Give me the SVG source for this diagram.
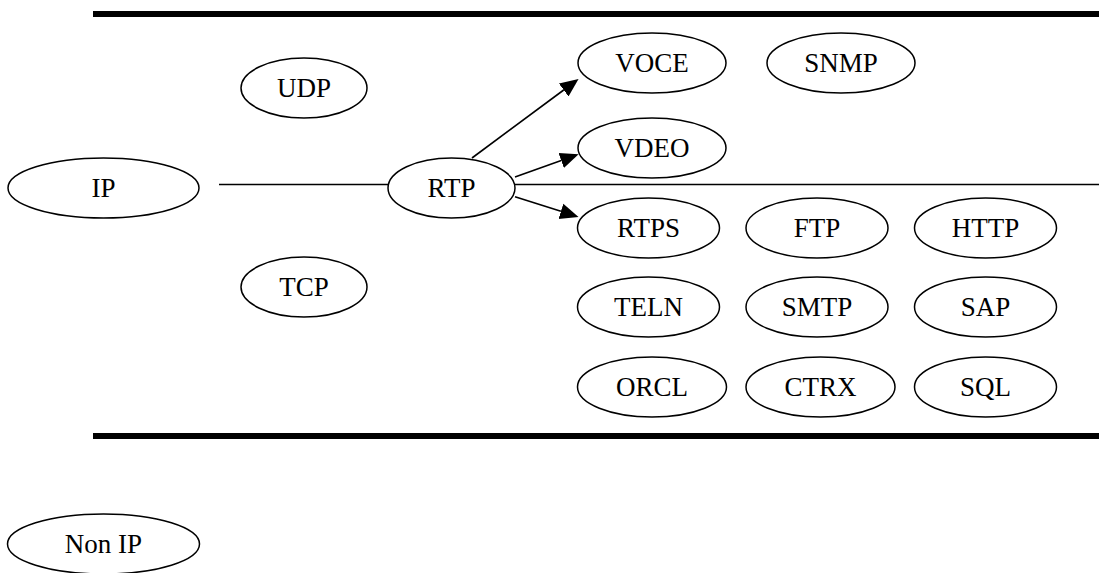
<svg xmlns="http://www.w3.org/2000/svg" width="1099" height="573" viewBox="0 0 1099 573">
<style>
.n ellipse{fill:#fff;stroke:#000;stroke-width:1.5}
.n text{font-family:"Liberation Serif","Times New Roman",serif;font-size:27px;fill:#000;text-anchor:middle}
.c line{stroke:#000;stroke-width:1.6;fill:none}
.bar{fill:#000}
</style>
<defs>
<marker id="ah" markerUnits="userSpaceOnUse" markerWidth="20" markerHeight="18" refX="0" refY="9" orient="auto">
<path d="M0,1 L18.5,9 L0,17 z" fill="#000"/>
</marker>
</defs>
<rect class="bar" x="93" y="11" width="1006" height="6"/>
<rect class="bar" x="93" y="433" width="1006" height="6"/>
<g class="c" id="connectors">
<line x1="219" y1="184.5" x2="1099" y2="184.5"/>
<line x1="472" y1="158" x2="563.7" y2="90" marker-end="url(#ah)"/>
<line x1="515" y1="177" x2="561.2" y2="160.5" marker-end="url(#ah)"/>
<line x1="515" y1="196.7" x2="560.9" y2="211.3" marker-end="url(#ah)"/>
</g>
<g class="n" id="IP"><ellipse cx="103.5" cy="188" rx="95.5" ry="30"/><text x="103.5" y="197">IP</text></g>
<g class="n" id="UDP"><ellipse cx="304" cy="88" rx="63" ry="30"/><text x="304" y="97">UDP</text></g>
<g class="n" id="TCP"><ellipse cx="304" cy="287" rx="63" ry="30"/><text x="304" y="296">TCP</text></g>
<g class="n" id="RTP"><ellipse cx="451.5" cy="188" rx="63.5" ry="30"/><text x="451.5" y="197">RTP</text></g>
<g class="n" id="VOCE"><ellipse cx="652" cy="63" rx="74" ry="30"/><text x="652" y="72">VOCE</text></g>
<g class="n" id="SNMP"><ellipse cx="841" cy="63" rx="74" ry="30"/><text x="841" y="72">SNMP</text></g>
<g class="n" id="VDEO"><ellipse cx="652" cy="148" rx="74" ry="30"/><text x="652" y="157">VDEO</text></g>
<g class="n" id="RTPS"><ellipse cx="648.5" cy="228" rx="71" ry="30"/><text x="648.5" y="237">RTPS</text></g>
<g class="n" id="FTP"><ellipse cx="817" cy="228" rx="71" ry="30"/><text x="817" y="237">FTP</text></g>
<g class="n" id="HTTP"><ellipse cx="985.5" cy="228" rx="71" ry="30"/><text x="985.5" y="237">HTTP</text></g>
<g class="n" id="TELN"><ellipse cx="648.5" cy="307" rx="71" ry="30"/><text x="648.5" y="316">TELN</text></g>
<g class="n" id="SMTP"><ellipse cx="817" cy="307" rx="71" ry="30"/><text x="817" y="316">SMTP</text></g>
<g class="n" id="SAP"><ellipse cx="985.5" cy="307" rx="71" ry="30"/><text x="985.5" y="316">SAP</text></g>
<g class="n" id="ORCL"><ellipse cx="652" cy="387" rx="74.5" ry="30"/><text x="652" y="396">ORCL</text></g>
<g class="n" id="CTRX"><ellipse cx="820.5" cy="387" rx="74.5" ry="30"/><text x="820.5" y="396">CTRX</text></g>
<g class="n" id="SQL"><ellipse cx="985.5" cy="387" rx="71" ry="30"/><text x="985.5" y="396">SQL</text></g>
<g class="n" id="NonIP"><ellipse cx="103.5" cy="544" rx="96" ry="30"/><text x="103.5" y="553">Non IP</text></g>
</svg>
